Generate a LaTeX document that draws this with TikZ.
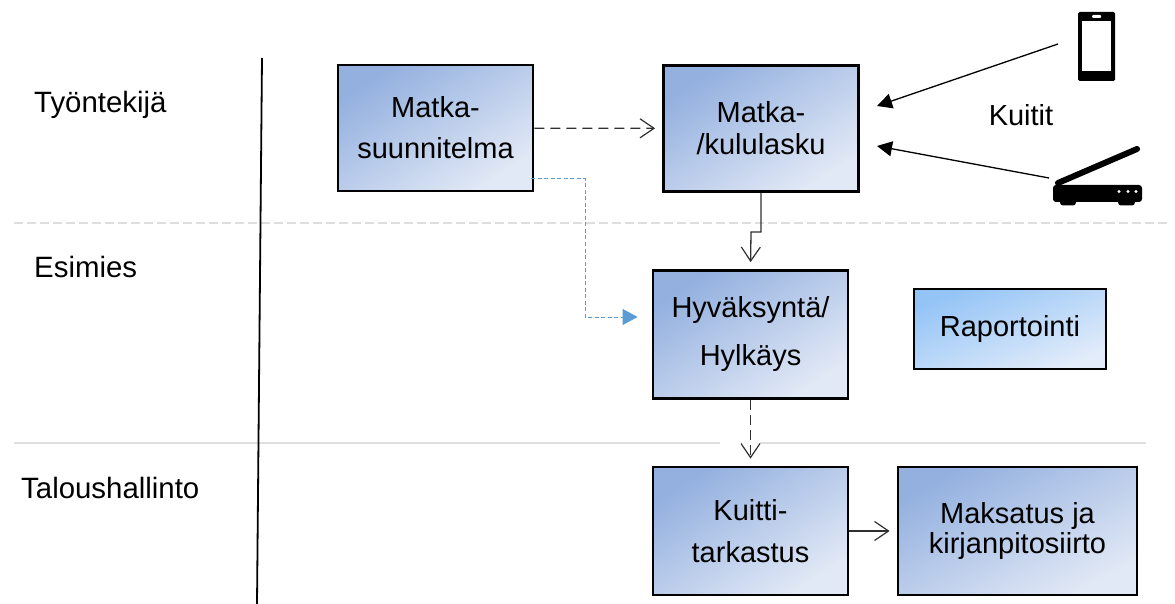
\documentclass[tikz,border=0pt]{standalone}
\usepackage{fontspec}
\setmainfont{Liberation Sans}
\usetikzlibrary{arrows.meta}

\definecolor{boxdark}{HTML}{93B0DF}
\definecolor{boxlight}{HTML}{E2E9F6}
\definecolor{repdark}{HTML}{94C4F6}
\definecolor{replight}{HTML}{E2ECFA}
\definecolor{laneline}{HTML}{DEDEDE}
\definecolor{tapline}{HTML}{5B9BD5}
\definecolor{flowline}{HTML}{303030}

\tikzset{
  flowbox/.style={rectangle, draw=black, line width=2.8pt, inner sep=0pt, align=center,
    top color=boxdark, bottom color=boxlight, shading angle=33,
    font=\fontsize{29}{32}\selectfont},
  lanelabel/.style={anchor=west, inner sep=0pt, font=\fontsize{29.4}{32}\selectfont},
  barb/.style={-{Straight Barb[length=14pt,width=19pt,line width=1.2pt]}, line width=1.3pt, color=flowline},
  tiptri/.style={-{Triangle[length=15pt,width=15pt]}, black, line width=1.3pt},
}

\begin{document}
\begin{tikzpicture}[x=1pt, y=-1pt]
    \useasboundingbox (0,0) rectangle (1175,604);

    % Kaistat
    \node[lanelabel] (tyo) at (34,105) {Työntekijä};
    \node[lanelabel] (esi) at (34,267) {Esimies};
    \node[lanelabel] (tal) at (21,488) {Taloushallinto};
    \draw[laneline, line width=1.1pt, dash pattern=on 9pt off 4pt] (14,223) -- (1168,223);
    \draw[laneline, line width=1.3pt] (14,443) -- (720,443);
    \draw[laneline, line width=1.3pt] (760,443) -- (1146,443);
    \draw[black, line width=1.8pt] (262,58) -- (257,604);

    % Laatikot
    \node[flowbox, minimum width=195pt, minimum height=126pt] (suun) at (435.5,128) {Matka-\\[9pt]suunnitelma};
    \node[flowbox, minimum width=195pt, minimum height=126pt] (kulu) at (761,128.5) {Matka-\\/kululasku};
    \node[flowbox, minimum width=195pt, minimum height=128pt] (hyv) at (750.5,334.5) {Hyväksyntä/\\[16pt]Hylkäys};
    \node[flowbox, minimum width=192pt, minimum height=80pt, top color=repdark, bottom color=replight, shading angle=23] (rap) at (1010,329) {Raportointi};
    \node[flowbox, minimum width=195pt, minimum height=128pt] (kuit) at (750.5,531) {Kuitti-\\[10pt]tarkastus};
    \node[flowbox, minimum width=239pt, minimum height=128pt, shading angle=28] (maks) at (1017.5,531) {Maksatus ja\\[-2pt]kirjanpitosiirto};
    \node[inner sep=0pt, font=\fontsize{29}{32}\selectfont] (kuitit) at (1021,115) {Kuitit};

    % Vapaat pisteet
    \coordinate (taita) at (751,232);
    \coordinate (haara) at (531,179);
    \coordinate (kulma) at (585,317);
    \coordinate (puhin) at (1058,44);
    \coordinate (skann) at (1049,178);
    \coordinate (karki) at (877,106);
    \coordinate (kark2) at (877,146);

    % Nuolet
    \draw[barb, dashed, dash pattern=on 10pt off 6pt, shorten >=7pt] (suun) -- (kulu);
    \draw[barb, shorten >=7pt] (kulu.south) |- (taita) -- (hyv.north);
    \draw[barb, dash pattern=on 10pt off 5pt, shorten >=7pt] (hyv) -- (kuit);
    \draw[barb, shorten >=7pt] (kuit) -- (maks);
    \draw[tapline, line width=1pt, dash pattern=on 4pt off 2.5pt, -{Triangle[length=15pt,width=16pt]}, shorten >=14pt]
        (haara) -| (kulma) -- (hyv.west |- kulma);
    \draw[tiptri] (puhin) -- (karki);
    \draw[tiptri] (skann) -- (kark2);

    % Puhelin
    \fill[black, rounded corners=1.5pt] (1078,12) rectangle (1115,81);
    \fill[white] (1082,21) rectangle (1111,71);
    \fill[white, rounded corners=1pt] (1092,15) rectangle (1101,18);

    % Skanneri
    \draw[black, line width=6pt, line cap=round] (1058,183) -- (1137,149);
    \fill[black, rounded corners=3pt] (1053,185) rectangle (1142,202);
    \fill[black, rounded corners=3pt] (1060,195) rectangle (1076,205.5);
    \fill[black, rounded corners=3pt] (1118,195) rectangle (1135,205.5);
    \fill[white] (1119,191.5) circle (1.7pt);
    \fill[white] (1128,191.5) circle (1.7pt);
    \fill[white] (1136,191.5) circle (1.7pt);
\end{tikzpicture}
\end{document}
